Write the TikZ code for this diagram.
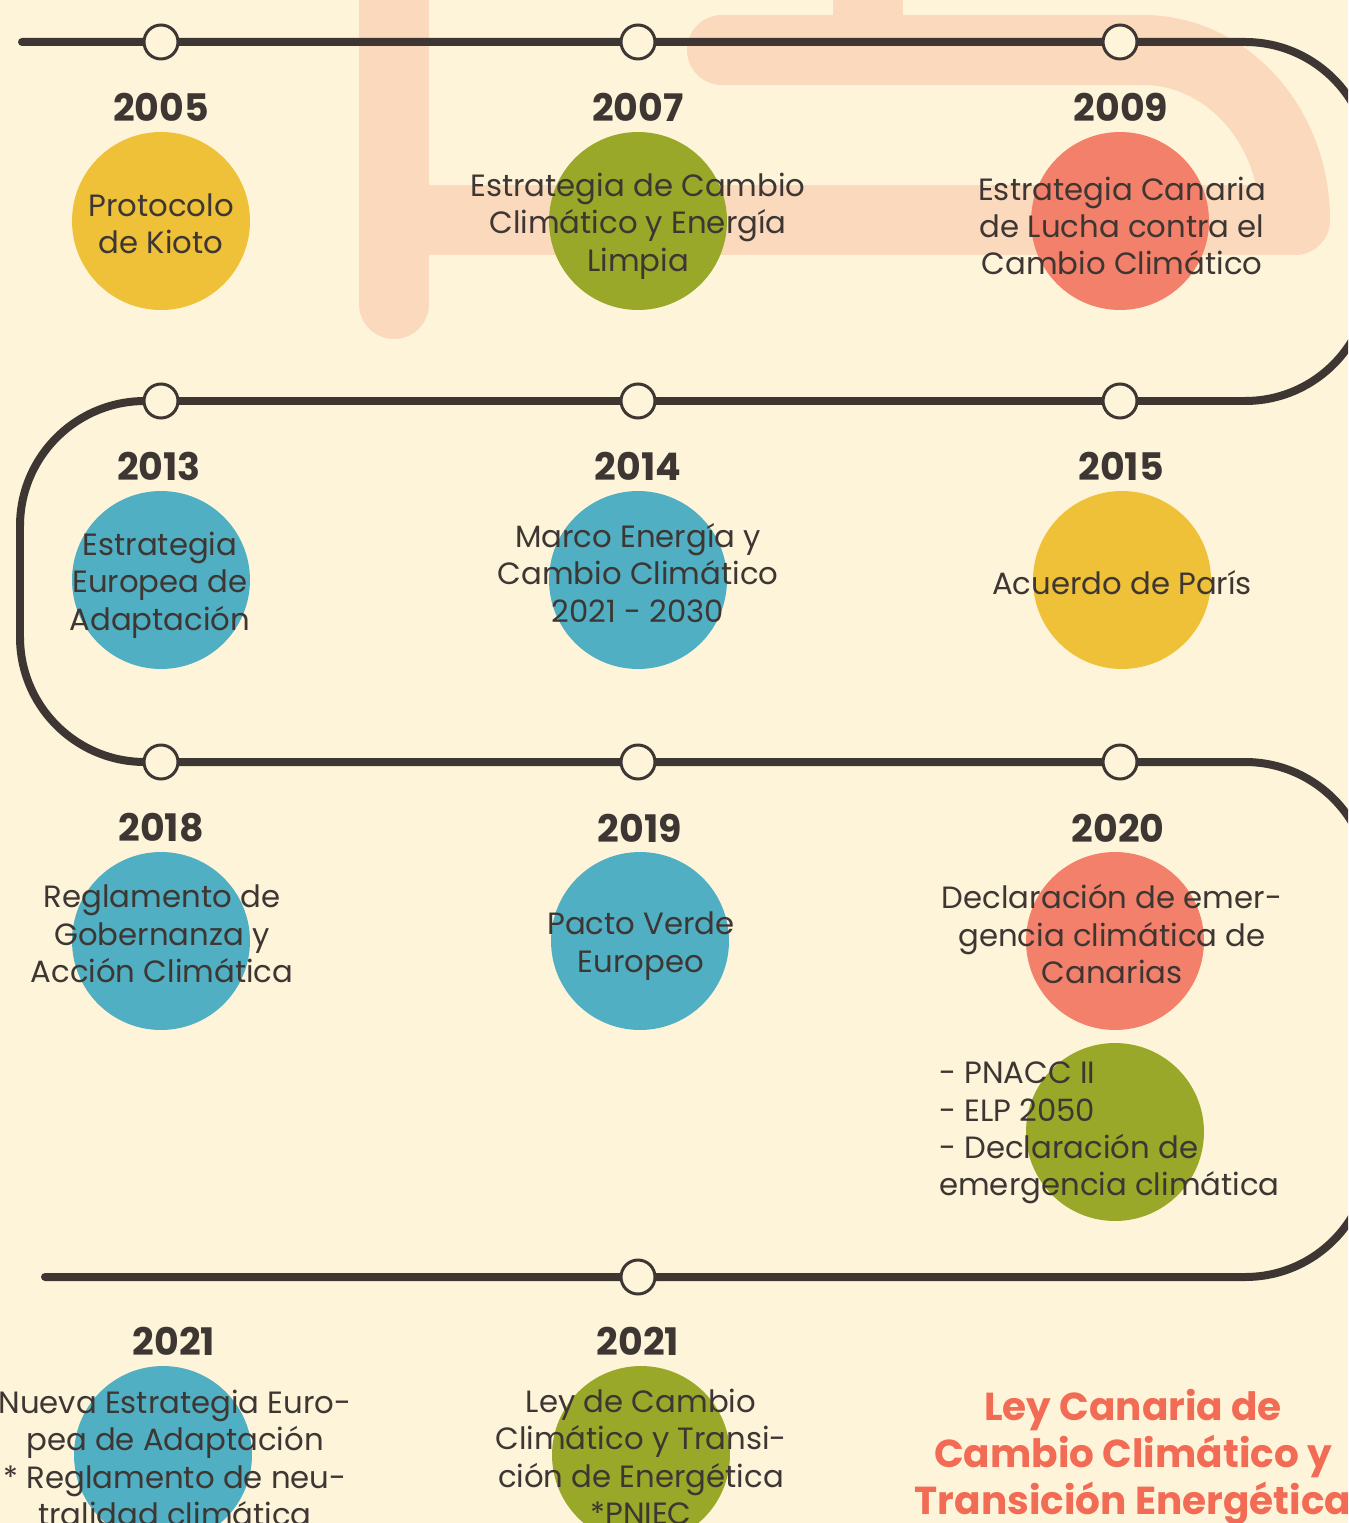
\documentclass[tikz,border=0pt]{standalone}
\usepackage{fontspec}
\setmainfont{Poppins}
\definecolor{cream}{HTML}{FEF4D9}
\definecolor{peach}{HTML}{FAD9BC}
\definecolor{ink}{HTML}{3D3633}
\definecolor{gold}{HTML}{EEC139}
\definecolor{olive}{HTML}{9AA829}
\definecolor{salmon}{HTML}{F3806A}
\definecolor{teal}{HTML}{50AFC2}
\definecolor{tomato}{HTML}{F26B55}
\tikzset{
  band/.style = {peach, line width = 1.4cm, line cap = round, line join = round},
  track/.style = {ink, line width = 0.16cm, line cap = round, rounded corners = 2.5cm},
  station/.style = {circle, draw = ink, fill = cream, line width = 0.06cm, minimum size = 0.68cm, inner sep = 0},
  disc/.style = {circle, minimum size = 3.56cm, inner sep = 0},
  year/.style = {text = ink, font = \fontsize{21.6}{25}\selectfont\bfseries},
  event/.style = {text = ink, align = center, font = \fontsize{17.5}{21.3}\selectfont},
  headline/.style = {text = tomato, align = center, font = \fontsize{22.2}{26.7}\selectfont\bfseries}
}
\begin{document}
\begin{tikzpicture}[x = 0.02cm, y = -0.02cm]
  \useasboundingbox (0, 0) rectangle (1348, 1523);
  \fill[cream] (0, 0) rectangle (1348, 1523);
  \begin{scope}
    \clip (0, 0) rectangle (1348, 1523);
    \draw[band] (394, -40) -- (394, 304);
    \draw[band] (868, -40) -- (868, 50);
    \draw[band] (722, 50) -- (1143, 50) .. controls (1227, 50) and (1295, 126) .. (1295, 220) -- (428, 220);
    \coordinate (start) at (22, 42);
    \coordinate (finish) at (45, 1277);
    \draw[track] (start) -- (1370, 42) -- (1370, 401) -- (20, 401) -- (20, 762)
      -- (1370, 762) -- (1370, 1277) -- (finish);
  \end{scope}
  \foreach \name/\x/\y in {s1/161/42, s2/638/42, s3/1120/42, s4/161/401, s5/638/401, s6/1120/401,
    s7/161/762, s8/638/762, s9/1120/762, s10/638/1277}
    \node[station] (\name) at (\x, \y) {};
  \foreach \name/\x/\y/\col in {d1/161/221/gold, d2/638/221/olive, d3/1120/221/salmon,
    d4/161/580/teal, d5/638/580/teal, d6/1122/580/gold, d7/161/941/teal, d8/640/941/teal,
    d9/1115/941/salmon, d10/1115/1132/olive, d11/163/1455/teal, d12/641/1455/olive}
    \node[disc, fill = \col] (\name) at (\x, \y) {};
  \node[year] (y1) at (161, 107) {2005};
  \node[year] (y2) at (638, 107) {2007};
  \node[year] (y3) at (1121, 107) {2009};
  \node[year] (y4) at (159, 466) {2013};
  \node[year] (y5) at (638, 466) {2014};
  \node[year] (y6) at (1121, 466) {2015};
  \node[year] (y7) at (161, 828) {2018};
  \node[year] (y8) at (640, 828) {2019};
  \node[year] (y9) at (1118, 828) {2020};
  \node[year] (y10) at (174, 1341) {2021};
  \node[year] (y11) at (638, 1341) {2021};
  \node[event] (e1) at (161, 224) {Protocolo\\de Kioto};
  \node[event] (e2) at (638, 226) {Estrategia de Cambio\\Climático y Energía\\Limpia};
  \node[event] (e3) at (1122, 226) {Estrategia Canaria\\de Lucha contra el\\Cambio Climático};
  \node[event] (e4) at (160, 585) {Estrategia\\Europea de\\Adaptación};
  \node[event] (e5) at (638, 573) {Marco Energía y\\Cambio Climático\\2021 - 2030};
  \node[event] (e6) at (1122, 583) {Acuerdo de París};
  \node[event] (e7) at (162, 934) {Reglamento de\\Gobernanza y\\Acción Climática};
  \node[event] (e8) at (641, 946) {Pacto Verde\\Europeo};
  \node[event] (e9) at (1112, 934) {Declaración de emer-\\gencia climática de\\Canarias};
  \node[event, align = left, anchor = west] (e10) at (933, 1133)
    {- PNACC II\\- ELP 2050\\- Declaración de\\emergencia climática};
  \node[event] (e11) at (175, 1458) {Nueva Estrategia Euro-\\pea de Adaptación\\* Reglamento de neu-\\tralidad climática};
  \node[event] (e12) at (641, 1457) {Ley de Cambio\\Climático y Transi-\\ción de Energética\\*PNIEC};
  \node[headline] (title) at (1133, 1457) {Ley Canaria de\\Cambio Climático y\\Transición Energética};
\end{tikzpicture}
\end{document}
